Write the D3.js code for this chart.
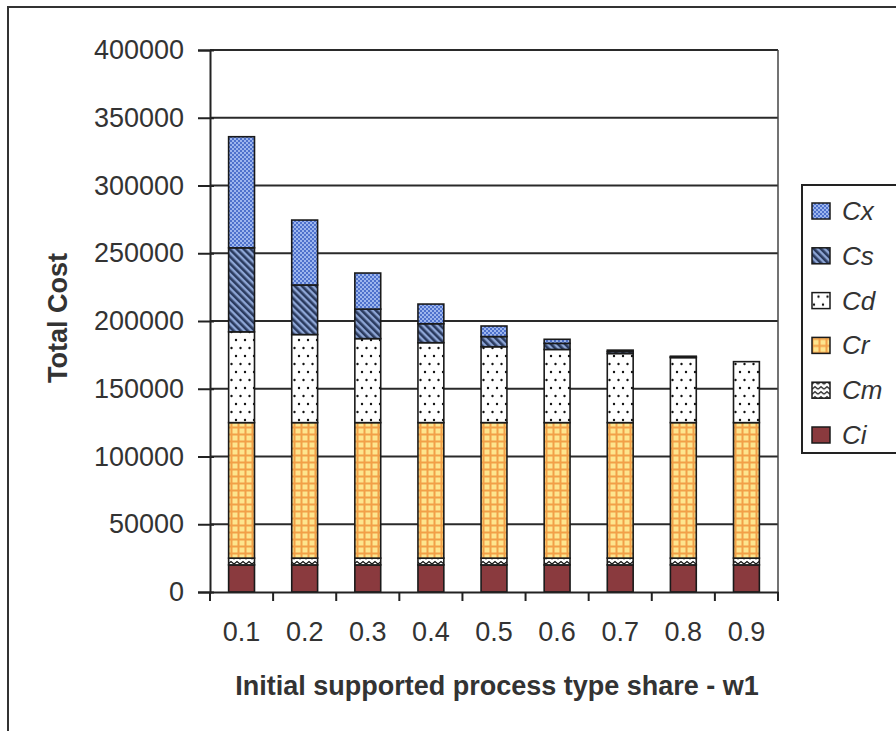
<!DOCTYPE html>
<html><head><meta charset="utf-8">
<script src="https://cdn.jsdelivr.net/npm/d3@7"></script>
<style>
html,body{margin:0;padding:0;background:#fff;}
svg{display:block;font-family:"Liberation Sans",Arial,sans-serif;}
</style></head>
<body>
<svg id="chart" width="896" height="731"></svg>
<script>
const categories = ["0.1","0.2","0.3","0.4","0.5","0.6","0.7","0.8","0.9"];
const seriesNames = ["Ci","Cm","Cr","Cd","Cs","Cx"];
const Ci = [20000,20000,20000,20000,20000,20000,20000,20000,20000];
const Cm = [5000,5000,5000,5000,5000,5000,5000,5000,5000];
const Cr = [100000,100000,100000,100000,100000,100000,100000,100000,100000];
const Cd = [67000,65000,62000,59000,56000,54000,51000,48000,45000];
const Cs = [62000,36600,21800,14000,7500,4500,1500,500,0];
const Cx = [82000,47900,26600,14500,7800,3000,1000,500,0];
const yTicks = [0,50000,100000,150000,200000,250000,300000,350000,400000];
const legendOrder = ["Cx","Cs","Cd","Cr","Cm","Ci"];

(function(){
const seriesData = {Ci, Cm, Cr, Cd, Cs, Cx};
const rows = categories.map((c,i)=>{
  const r = {cat:c};
  seriesNames.forEach(s=>r[s]=seriesData[s][i]);
  return r;
});

const svg = d3.select("#chart");
const defs = svg.append("defs");

let p = defs.append("pattern").attr("id","pCx").attr("patternUnits","userSpaceOnUse").attr("width",4).attr("height",4);
p.append("rect").attr("width",4).attr("height",4).attr("fill","#4f72cc");
p.append("rect").attr("x",0).attr("y",0).attr("width",2).attr("height",2).attr("fill","#9db6ee");
p.append("rect").attr("x",2).attr("y",2).attr("width",2).attr("height",2).attr("fill","#9db6ee");
p = defs.append("pattern").attr("id","pCs").attr("patternUnits","userSpaceOnUse").attr("width",5).attr("height",5).attr("patternTransform","rotate(-45)");
p.append("rect").attr("width",5).attr("height",5).attr("fill","#8ea6d6");
p.append("rect").attr("width",2.6).attr("height",5).attr("fill","#2a3a5e");
p = defs.append("pattern").attr("id","pCd").attr("patternUnits","userSpaceOnUse").attr("width",9).attr("height",16);
p.append("rect").attr("width",9).attr("height",16).attr("fill","#ffffff");
p.append("circle").attr("cx",2).attr("cy",4).attr("r",1.2).attr("fill","#111");
p.append("circle").attr("cx",6.5).attr("cy",12).attr("r",1.2).attr("fill","#111");
p = defs.append("pattern").attr("id","pCr").attr("patternUnits","userSpaceOnUse").attr("width",7).attr("height",7);
p.append("rect").attr("width",7).attr("height",7).attr("fill","#f2a048");
p.append("rect").attr("x",1.5).attr("y",1.5).attr("width",5).attr("height",5).attr("fill","#fde58e");
p = defs.append("pattern").attr("id","pCm").attr("patternUnits","userSpaceOnUse").attr("width",6).attr("height",5);
p.append("rect").attr("width",6).attr("height",5).attr("fill","#ffffff");
p.append("path").attr("d","M0,4 L3,1.5 L6,4").attr("fill","none").attr("stroke","#111").attr("stroke-width",1.3);
const fills = {Cx:"url(#pCx)",Cs:"url(#pCs)",Cd:"url(#pCd)",Cr:"url(#pCr)",Cm:"url(#pCm)",Ci:"#8a3a3e"};

svg.append("path").attr("d","M8,731 L8,7 L896,7").attr("fill","none").attr("stroke","#333").attr("stroke-width",2);

const pl=210,pr=778,pt=50,pb=592;
const x = d3.scaleBand().domain(categories).range([pl,pr]).paddingInner(0.59).paddingOuter(0.295);
const y = d3.scaleLinear().domain([0,400000]).range([pb,pt]);

svg.append("g").selectAll("line").data(yTicks.filter(t=>t>0)).join("line")
  .attr("x1",pl).attr("x2",pr).attr("y1",d=>y(d)).attr("y2",d=>y(d))
  .attr("stroke","#2a2a2a").attr("stroke-width",2);
svg.append("line").attr("x1",pr).attr("x2",pr).attr("y1",pt).attr("y2",pb).attr("stroke","#444").attr("stroke-width",1.5);

const stack = d3.stack().keys(seriesNames)(rows);
svg.append("g").selectAll("g").data(stack).join("g")
  .attr("fill",d=>fills[d.key])
  .selectAll("rect").data(d=>d.filter(v=>v[1]-v[0]>0)).join("rect")
  .attr("x",d=>x(d.data.cat)).attr("width",x.bandwidth())
  .attr("y",d=>y(d[1])).attr("height",d=>y(d[0])-y(d[1]))
  .attr("stroke","#1a1a1a").attr("stroke-width",1.6);

const yAxis = d3.axisLeft(y).tickValues(yTicks).tickSize(12).tickPadding(14).tickFormat(d3.format("d"));
const gy = svg.append("g").attr("transform",`translate(${pl},0)`).call(yAxis);
gy.select(".domain").attr("stroke","#222").attr("stroke-width",2);
gy.selectAll(".tick line").attr("stroke","#222").attr("stroke-width",2).attr("x2",-12).attr("x1",4);
gy.selectAll("text").attr("font-size",27).attr("fill","#333").attr("font-family","Liberation Sans, Arial, sans-serif");

const xAxis = d3.axisBottom(x).tickSize(0).tickPadding(30);
const gx = svg.append("g").attr("transform",`translate(0,${pb})`).call(xAxis);
gx.select(".domain").attr("stroke","#222").attr("stroke-width",2);
gx.selectAll("text").attr("font-size",27).attr("fill","#333").attr("font-family","Liberation Sans, Arial, sans-serif");
const step = x.step();
const bounds = categories.map(c=>x(c)-step*x.paddingInner()/2).concat([pr]);
gx.selectAll(".bt").data(bounds).join("line").attr("class","bt")
  .attr("x1",d=>d).attr("x2",d=>d).attr("y1",0).attr("y2",9)
  .attr("stroke","#222").attr("stroke-width",2);

svg.append("text").attr("x",(pl+pr)/2+3).attr("y",695).attr("text-anchor","middle")
  .attr("font-size",27).attr("font-weight","bold").attr("fill","#333")
  .text("Initial supported process type share - w1");
svg.append("text").attr("transform","translate(67,318) rotate(-90)").attr("text-anchor","middle")
  .attr("font-size",27).attr("font-weight","bold").attr("fill","#333")
  .text("Total Cost");

const lg = svg.append("g");
lg.append("rect").attr("x",802).attr("y",185).attr("width",130).attr("height",268)
  .attr("fill","#fff").attr("stroke","#222").attr("stroke-width",2);
const ly = d3.scalePoint().domain(legendOrder).range([211,435]);
const li = lg.selectAll("g.li").data(legendOrder).join("g").attr("class","li")
  .attr("transform",d=>`translate(812,${ly(d)})`);
li.append("rect").attr("x",0).attr("y",-8).attr("width",18).attr("height",16)
  .attr("fill",d=>fills[d]).attr("stroke","#1a1a1a").attr("stroke-width",1.5);
li.append("text").attr("x",30).attr("y",9).attr("font-size",26).attr("font-style","italic")
  .attr("fill","#333").text(d=>d);
})();
</script>
</body></html>
